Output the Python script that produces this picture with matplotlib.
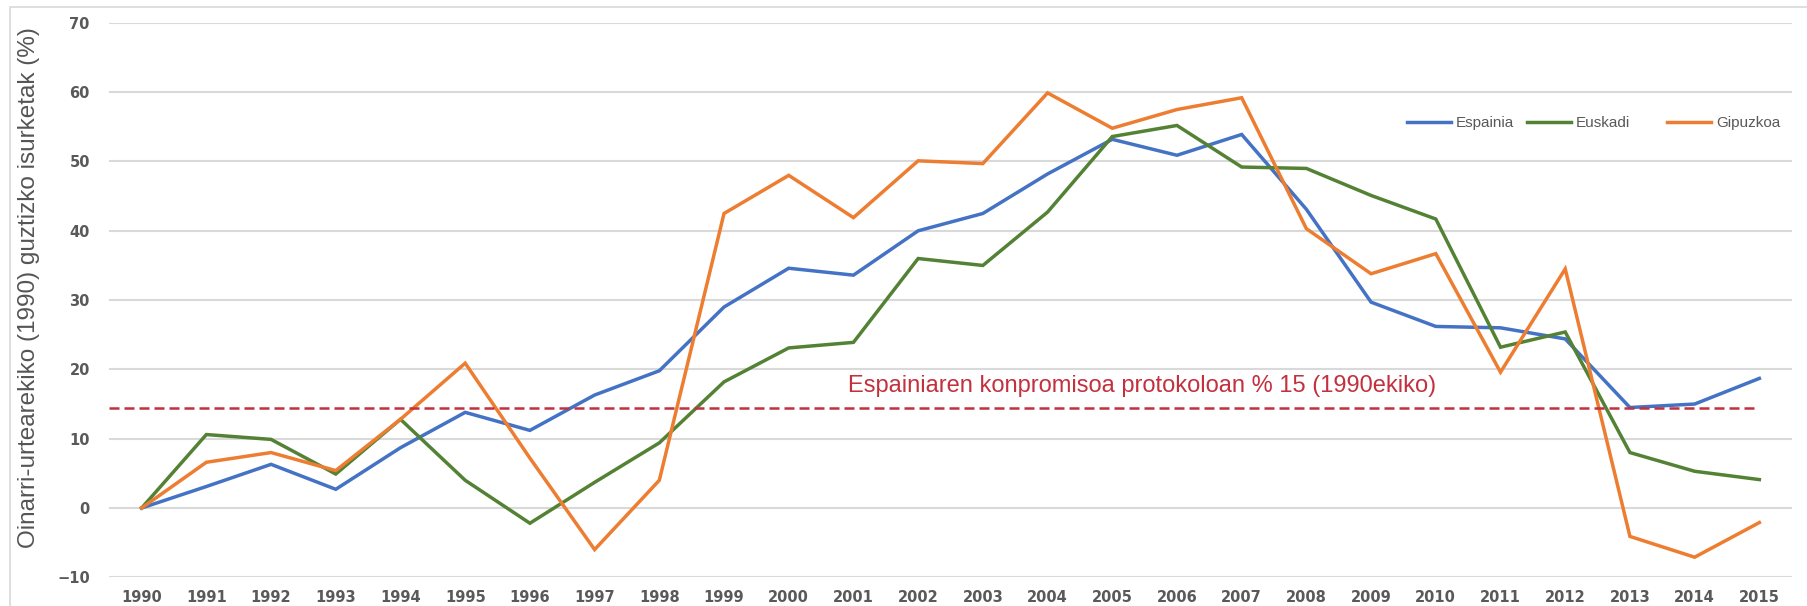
import matplotlib

matplotlib.use("Agg")
import matplotlib.pyplot as plt
import numpy as np
from matplotlib.patches import Rectangle

YEARS = [
    "1990", "1991", "1992", "1993", "1994", "1995", "1996", "1997", "1998",
    "1999", "2000", "2001", "2002", "2003", "2004", "2005", "2006", "2007",
    "2008", "2009", "2010", "2011", "2012", "2013", "2014", "2015",
]
ESPAINIA = [0, 3.1, 6.3, 2.7, 8.7, 13.8, 11.2, 16.3, 19.8, 29.0, 34.6, 33.6, 40.0,
            42.5, 48.2, 53.2, 50.9, 53.9, 43.1, 29.7, 26.2, 26.0, 24.4, 14.5, 15.0, 18.7]
EUSKADI = [0, 10.6, 9.9, 4.9, 12.8, 4.0, -2.2, 3.7, 9.4, 18.2, 23.1, 23.9, 36.0,
           35.0, 42.7, 53.6, 55.2, 49.2, 49.0, 45.1, 41.7, 23.2, 25.4, 8.0, 5.3, 4.1]
GIPUZKOA = [0, 6.6, 8.0, 5.4, 12.8, 20.9, 7.2, -6.0, 4.0, 42.5, 48.0, 41.9, 50.1,
            49.7, 59.9, 54.8, 57.5, 59.2, 40.3, 33.8, 36.7, 19.6, 34.5, -4.1, -7.1, -2.1]
SERIES_NAMES = ["Espainia", "Euskadi", "Gipuzkoa"]
TARGET = 14.4
TARGET_LABEL = "Espainiaren konpromisoa protokoloan % 15 (1990ekiko)"
Y_LABEL = "Oinarri-urtearekiko (1990) guztizko isurketak (%)"

BLUE = "#4472C4"
GREEN = "#548235"
ORANGE = "#ED7D31"
RED = "#C3303E"
GRID = "#D9D9D9"
TICK_GRAY = "#595959"
TEXT_FONT = ["Liberation Sans", "DejaVu Sans"]

W, H = 1807, 606
fig = plt.figure(figsize=(W / 100, H / 100), dpi=100)
ax = fig.add_axes([109.3 / W, 1 - 577.3 / H, (1791.7 - 109.3) / W, (577.3 - 22.9) / H])

x = np.arange(len(YEARS))
colors = [BLUE, GREEN, ORANGE]
lines = []
for values, name, color in zip([ESPAINIA, EUSKADI, GIPUZKOA], SERIES_NAMES, colors):
    (ln,) = ax.plot(x, values, color=color, lw=2.5, label=name, solid_joinstyle="miter")
    lines.append(ln)

ax.hlines(TARGET, -0.5, len(YEARS) - 1, colors=RED, linestyles=(0, (4, 2)), lw=1.8)
ax.text(15.46, 17.65, TARGET_LABEL, ha="center", va="center", color=RED,
        fontsize=17, family=TEXT_FONT)

ax.set_xlim(-0.5, len(YEARS) - 0.5)
ax.set_ylim(-10, 70)
ax.set_yticks(range(-10, 71, 10))
ax.set_xticks(x, YEARS)
ax.grid(axis="y", color=GRID, lw=1.5)
ax.set_axisbelow(True)
for spine in ax.spines.values():
    spine.set_visible(False)
ax.tick_params(axis="both", length=0, labelsize=10.5, labelcolor=TICK_GRAY)
ax.tick_params(axis="x", pad=9.5)
ax.tick_params(axis="y", pad=14)
for lbl in ax.get_xticklabels() + ax.get_yticklabels():
    lbl.set_fontweight("bold")

ax.set_ylabel(Y_LABEL, fontsize=17.5, color="#555555", family=TEXT_FONT)
ax.yaxis.set_label_coords((39.7 - 109.3) / (1791.7 - 109.3), (577.3 - 288) / (577.3 - 22.9))

legend_kw = dict(frameon=False, labelcolor="#595959", borderpad=0,
                 borderaxespad=0, handlelength=2.9, handletextpad=0.3,
                 columnspacing=0.85, loc="center left", bbox_transform=fig.transFigure,
                 prop={"family": TEXT_FONT, "size": 11})
leg1 = ax.legend(lines[:2], SERIES_NAMES[:2], ncol=2,
                 bbox_to_anchor=(1407 / W, 1 - 123.3 / H), **legend_kw)
ax.add_artist(leg1)
ax.legend(lines[2:], SERIES_NAMES[2:], ncol=1,
          bbox_to_anchor=(1667 / W, 1 - 123.3 / H), **legend_kw)

fig.add_artist(Rectangle((10 / W, -0.05), 1.1, 1 - 7 / H + 0.05, transform=fig.transFigure,
                         fill=False, edgecolor=GRID, lw=1.2))

fig.savefig("out.png", dpi=100, facecolor="white")
